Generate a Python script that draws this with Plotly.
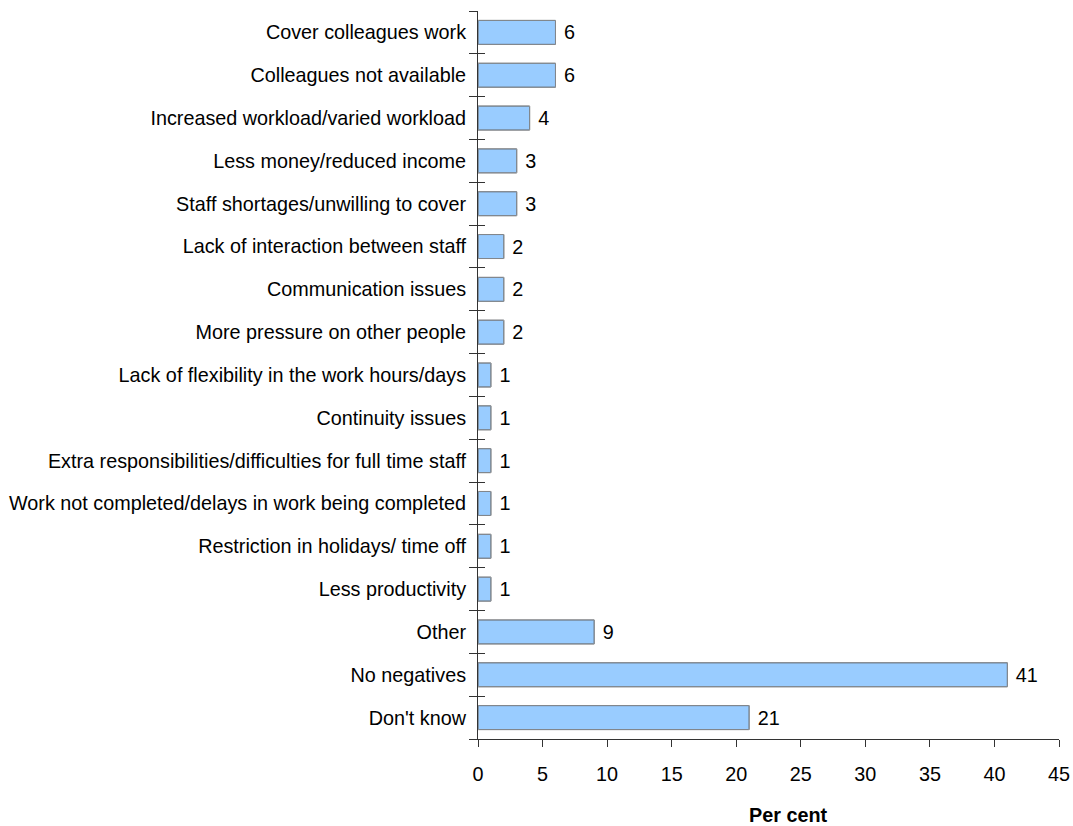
import plotly.graph_objects as go

categories = [
    "Cover colleagues work",
    "Colleagues not available",
    "Increased workload/varied workload",
    "Less money/reduced income",
    "Staff shortages/unwilling to cover",
    "Lack of interaction between staff",
    "Communication issues",
    "More pressure on other people",
    "Lack of flexibility in the work hours/days",
    "Continuity issues",
    "Extra responsibilities/difficulties for full time staff",
    "Work not completed/delays in work being completed",
    "Restriction in holidays/ time off",
    "Less productivity",
    "Other",
    "No negatives",
    "Don't know",
]
values = [6, 6, 4, 3, 3, 2, 2, 2, 1, 1, 1, 1, 1, 1, 9, 41, 21]
x_ticks = [0, 5, 10, 15, 20, 25, 30, 35, 40, 45]

FONT = "Liberation Sans, Arial, sans-serif"
FS = 19.8

fig = go.Figure()
fig.add_trace(go.Bar(
    x=values, y=categories, orientation="h",
    marker=dict(color="#99CCFF", line=dict(color="#222222", width=1)),
    width=0.56,
    text=[" " + str(v) for v in values], textposition="outside",
    textfont=dict(family=FONT, size=FS, color="black"),
    cliponaxis=False,
    showlegend=False,
))
fig.add_trace(go.Bar(
    x=values, y=categories, orientation="h", yaxis="y2",
    marker=dict(color="rgba(0,0,0,0)"), width=0.56,
    hoverinfo="skip", showlegend=False,
))

cat_rev = categories[::-1]
fig.update_layout(
    width=1073, height=826,
    margin=dict(l=478, r=14, t=11, b=87, autoexpand=False),
    plot_bgcolor="white", paper_bgcolor="white",
    font=dict(family=FONT, size=FS, color="black"),
    bargap=0.44,
    xaxis=dict(
        range=[0, 45], tickvals=x_ticks, showgrid=False, zeroline=False,
        showline=True, linecolor="#333333", linewidth=1,
        ticks="outside", ticklen=7, tickcolor="#333333",
        tickfont=dict(family=FONT, size=FS), ticklabelstandoff=10,
    ),
    yaxis=dict(
        type="category", categoryorder="array", categoryarray=cat_rev,
        range=[-0.5, len(categories) - 0.5],
        showgrid=False, zeroline=False,
        showline=True, linecolor="#333333", linewidth=1,
        ticks="outside", ticklen=8, tickcolor="#333333", tickson="boundaries",
        tickfont=dict(family=FONT, size=FS), ticklabelstandoff=7,
    ),
    yaxis2=dict(
        type="category", categoryorder="array", categoryarray=cat_rev,
        range=[-0.5, len(categories) - 0.5],
        overlaying="y", side="left", showgrid=False, zeroline=False,
        showline=False, showticklabels=False,
        ticks="inside", ticklen=7, tickcolor="#333333", tickson="boundaries",
    ),
    annotations=[dict(
        text="<b>Per cent</b>", xref="paper", yref="paper",
        x=0.534, y=-0.104, xanchor="center", yanchor="middle",
        showarrow=False, font=dict(family=FONT, size=FS),
    )],
)

fig.write_html("out.html", config={"displayModeBar": False},
               post_script="document.body.style.margin='0';")
